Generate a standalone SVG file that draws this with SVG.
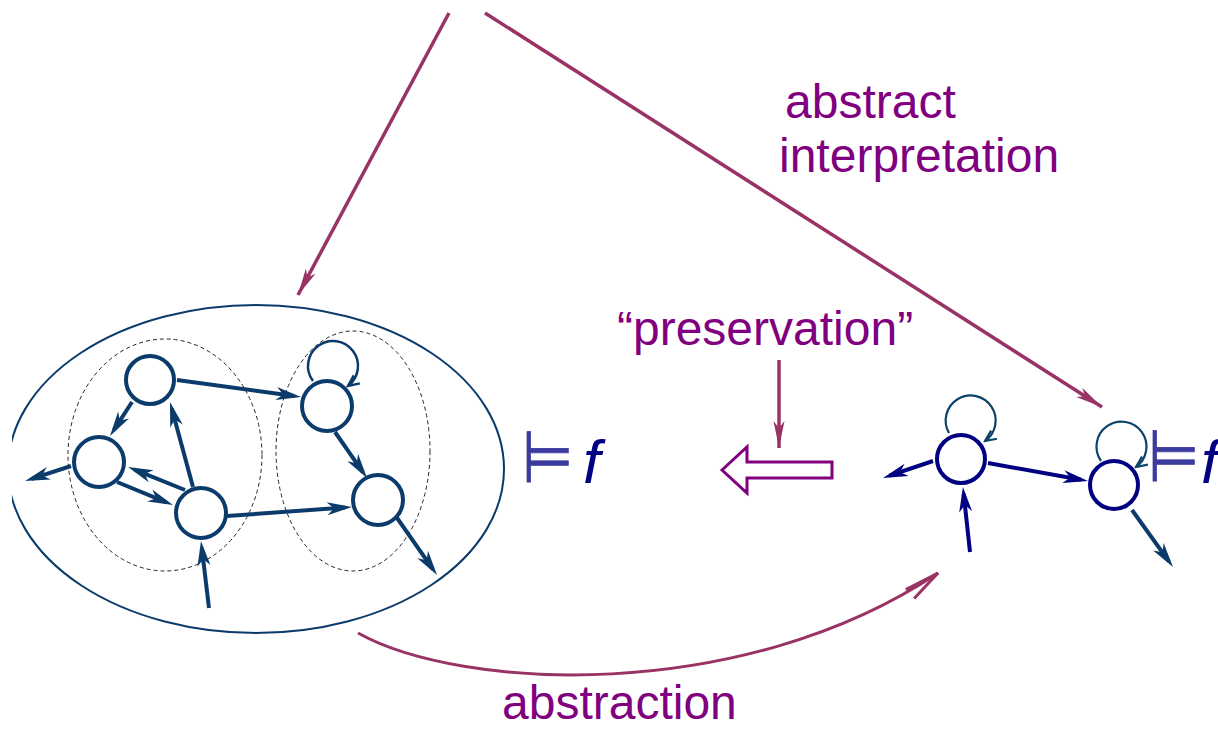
<svg xmlns="http://www.w3.org/2000/svg" width="1218" height="729" viewBox="0 0 1218 729">
  <style>
    .lbl { font-family: "Liberation Sans", Arial, sans-serif; font-size: 48px; fill: #800080; }
    .models { font-family: "DejaVu Sans", sans-serif; font-size: 72px; fill: #3b3b9e; stroke: #3b3b9e; stroke-width: 0.8; }
    .formula { font-family: "Liberation Sans", Arial, sans-serif; font-style: italic; font-size: 62px; fill: #000080; }
    .node-l { fill: #ffffff; stroke: #0b3b6b; stroke-width: 4; }
    .node-r { fill: #ffffff; stroke: #000080; stroke-width: 4; }
    .edge-l { fill: none; stroke: #0b3b6b; stroke-width: 4; marker-end: url(#headL); }
    .edge-r { fill: none; stroke: #000080; stroke-width: 4; marker-end: url(#headR); }
    .loop-l { fill: none; stroke: #0b3b6b; stroke-width: 2.5; marker-end: url(#loopL); }
    .loop-r { fill: none; stroke: #0b4468; stroke-width: 2.2; marker-end: url(#loopR); }
    .map { fill: none; stroke: #993366; stroke-width: 3.5; marker-end: url(#headM); }
    .dashed { fill: none; stroke: #222222; stroke-width: 1; stroke-dasharray: 4 3; }
  </style>
  <defs>
    <marker id="headL" markerUnits="userSpaceOnUse" viewBox="-28 -8 30 16" refX="-7" refY="0" markerWidth="30" markerHeight="16" orient="auto">
      <path d="M0,0 L-25,-6.5 L-18,0 L-25,6.5 Z" fill="#0b3b6b"/>
    </marker>
    <marker id="headR" markerUnits="userSpaceOnUse" viewBox="-28 -8 30 16" refX="-7" refY="0" markerWidth="30" markerHeight="16" orient="auto">
      <path d="M0,0 L-25,-6.5 L-18,0 L-25,6.5 Z" fill="#000080"/>
    </marker>
    <marker id="loopL" markerUnits="userSpaceOnUse" viewBox="-14 -8 16 16" refX="0" refY="0" markerWidth="16" markerHeight="16" orient="auto">
      <path d="M-11,-5 L0,0 L-11,5" fill="none" stroke="#0b3b6b" stroke-width="2.5"/>
    </marker>
    <marker id="loopR" markerUnits="userSpaceOnUse" viewBox="-14 -8 16 16" refX="0" refY="0" markerWidth="16" markerHeight="16" orient="auto">
      <path d="M-11,-5 L0,0 L-11,5" fill="none" stroke="#0b4468" stroke-width="2.2"/>
    </marker>
    <marker id="headM" markerUnits="userSpaceOnUse" viewBox="-30 -8 32 16" refX="0" refY="0" markerWidth="32" markerHeight="16" orient="auto">
      <path d="M0,0 L-27,-5.5 L-20,0 L-27,5.5 Z" fill="#993366"/>
    </marker>
    <marker id="headOpen" markerUnits="userSpaceOnUse" viewBox="-40 -10 42 20" refX="0" refY="0" markerWidth="42" markerHeight="20" orient="auto">
      <path d="M-36,-4 L0,0 L-34,8" fill="none" stroke="#993366" stroke-width="3"/>
    </marker>
    <clipPath id="frame">
      <rect x="12" y="0" width="1206" height="729"/>
    </clipPath>
  </defs>

  <!-- concrete system: enclosing ellipse and two dashed clusters -->
  <g id="concrete-system">
    <ellipse cx="256" cy="469" rx="248" ry="164" fill="none" stroke="#0b3b6b" stroke-width="2" clip-path="url(#frame)"/>
    <ellipse class="dashed" cx="165" cy="455" rx="97" ry="116"/>
    <ellipse class="dashed" cx="353" cy="451" rx="77" ry="120"/>
  </g>

  <!-- connectors -->
  <g id="connectors">
    <!-- concrete graph -->
    <line class="edge-l" x1="132" y1="402" x2="113.8" y2="430.1"/>
    <line class="edge-l" x1="71" y1="466" x2="31.7" y2="478.8"/>
    <line class="edge-l" x1="117" y1="482" x2="166.5" y2="502.3"/>
    <line class="edge-l" x1="185" y1="490" x2="134.5" y2="469.6"/>
    <line class="edge-l" x1="193" y1="487" x2="171.8" y2="408.8"/>
    <line class="edge-l" x1="177" y1="380" x2="294.1" y2="396"/>
    <line class="edge-l" x1="335" y1="432" x2="363" y2="472.3"/>
    <line class="edge-l" x1="227" y1="516" x2="345" y2="507.5"/>
    <line class="edge-l" x1="395" y1="515" x2="433" y2="569.3"/>
    <line class="edge-l" x1="209" y1="608" x2="201.8" y2="548"/>
    <path class="loop-l" d="M313,381 A25,25 0 1 1 348,386"/>

    <!-- abstract graph -->
    <line class="edge-r" x1="933" y1="461" x2="889.6" y2="475.7"/>
    <line class="edge-r" x1="970" y1="552" x2="963.7" y2="494"/>
    <line class="edge-r" x1="988" y1="463" x2="1081.1" y2="479.8"/>
    <line class="edge-l" x1="1132" y1="510" x2="1168.9" y2="561.3"/>
    <path class="loop-r" d="M949,433 A25,25 0 1 1 985,441"/>
    <path class="loop-r" d="M1101,461 A25,25 0 1 1 1136,467"/>

    <!-- mappings between the levels -->
    <line class="map" x1="449" y1="13" x2="298" y2="295"/>
    <line class="map" x1="485" y1="13" x2="1102" y2="407"/>
    <line class="map" x1="779" y1="360" x2="779" y2="448" stroke-width="3"/>
    <path d="M358,633 C460,690 740,705 938,573" fill="none" stroke="#993366" stroke-width="3" marker-end="url(#headOpen)"/>
    <polygon points="722,470 747,447 747,462 832,462 832,478 747,478 747,493" fill="#ffffff" stroke="#800080" stroke-width="3" stroke-linejoin="miter"/>
  </g>

  <!-- concrete states -->
  <g id="node-a"><circle class="node-l" cx="150" cy="380" r="24"/></g>
  <g id="node-b"><circle class="node-l" cx="99" cy="462" r="25"/></g>
  <g id="node-c"><circle class="node-l" cx="201" cy="513" r="25"/></g>
  <g id="node-d"><circle class="node-l" cx="327" cy="406" r="25"/></g>
  <g id="node-e"><circle class="node-l" cx="378" cy="500" r="25"/></g>

  <!-- abstract states -->
  <g id="node-f"><circle class="node-r" cx="961" cy="459" r="24"/></g>
  <g id="node-g"><circle class="node-r" cx="1114" cy="485" r="24"/></g>

  <!-- satisfaction labels -->
  <g id="concrete-sat">
    <text class="models" transform="translate(522,482) scale(0.82,1)" x="0" y="0">⊨</text>
    <text class="formula" x="583" y="483">f</text>
  </g>
  <g id="abstract-sat">
    <text class="models" transform="translate(1148,481) scale(0.82,1)" x="0" y="0">⊨</text>
    <text class="formula" x="1201" y="483">f</text>
  </g>

  <!-- labels -->
  <g id="label-abstract-interpretation">
    <text class="lbl" x="785" y="118">abstract</text>
    <text class="lbl" x="779" y="172">interpretation</text>
  </g>
  <g id="label-preservation">
    <text class="lbl" x="617" y="345">“preservation”</text>
  </g>
  <g id="label-abstraction">
    <text class="lbl" x="502" y="719">abstraction</text>
  </g>
</svg>
